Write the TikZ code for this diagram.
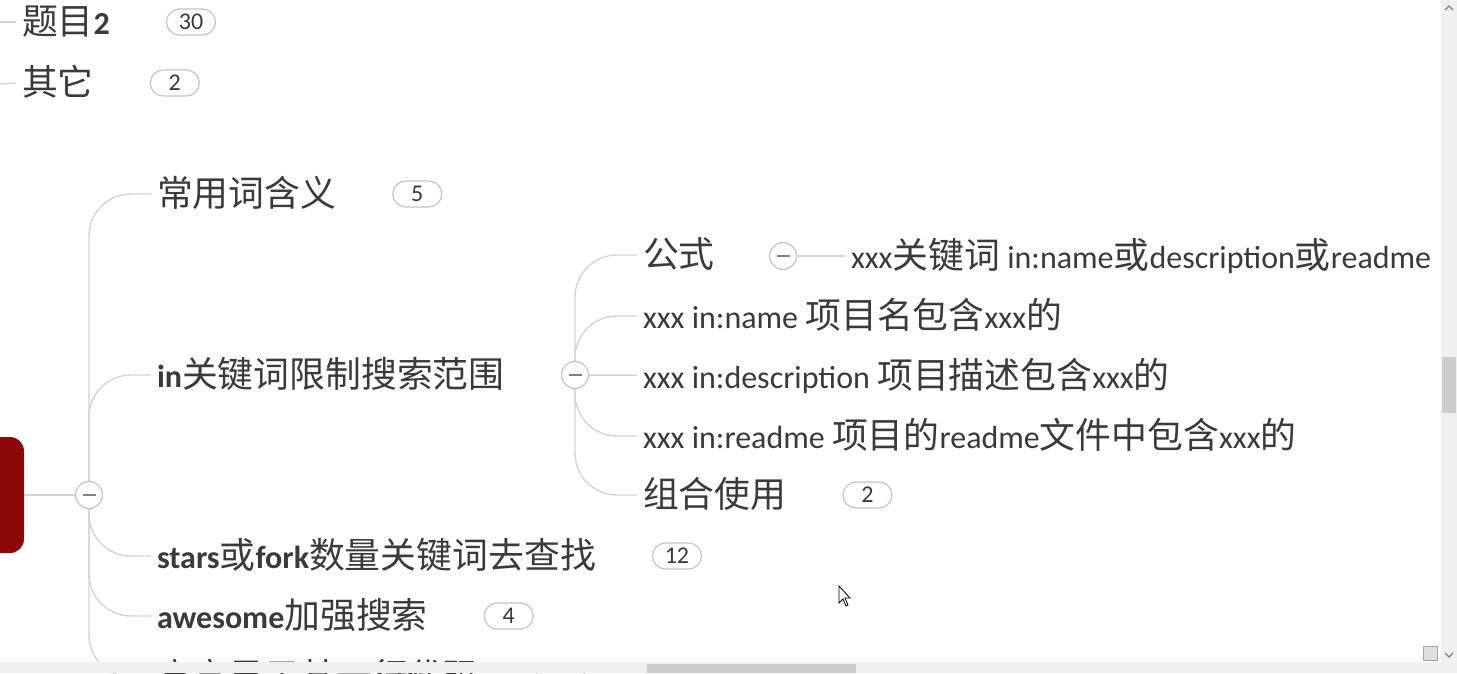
\documentclass[tikz,border=0pt]{standalone}
\usepackage{fontspec}
\setmainfont{Carlito}
\newfontfamily\cjk[Scale=1.12]{Noto Sans CJK SC}
\usetikzlibrary{positioning,calc}
\definecolor{rootred}{RGB}{141,8,8}
\definecolor{linegray}{RGB}{212,212,212}
\definecolor{pillgray}{RGB}{196,196,196}
\definecolor{inkgray}{RGB}{58,58,58}
\definecolor{bargray}{RGB}{240,240,240}
\definecolor{thumbgray}{RGB}{205,205,205}
\newcommand{\zh}[1]{{\cjk\mdseries #1}}

\begin{document}
\begin{tikzpicture}[x=1pt,y=-1pt,node distance=50pt,
   t/.style={anchor=west,inner sep=0pt,outer xsep=6pt,text height=25pt,text depth=0pt,
     text=inkgray,font=\fontsize{32}{36}\selectfont},
   tb/.style={t,font=\fontsize{32}{36}\selectfont\bfseries},
   cnt/.style={draw=pillgray,line width=1.2pt,rounded corners=13pt,minimum width=49pt,
     minimum height=26pt,inner sep=0pt,text=inkgray,font=\fontsize{24}{26}\selectfont},
   fold/.style={circle,draw=pillgray,line width=1.2pt,fill=white,minimum size=27pt,inner sep=0pt,
     path picture={\draw[gray,line width=1.8pt] ($(path picture bounding box.center)+(-6.5,0)$) -- ++(13,0);}},
   br/.style={draw=linegray,line width=1.4pt,rounded corners=42pt}]
  \fill[white] (0,0) rectangle (1457,673);
  \useasboundingbox (0,0) rectangle (1457,673);

  \coordinate (e1) at (0,22);
  \coordinate (e2) at (0,84);
  \node[t] (q2) at (16,22) {\zh{题目}\textbf{2}};
  \node[cnt,right=of q2] (c1) {30};
  \node[t] (qo) at (16,83) {\zh{其它}};
  \node[cnt,right=of qo] (c2) {2};
  \draw[br] (e1) -- (q2.west);
  \draw[br] (e2) -- (qo.west);

  \node[fill=rootred,rounded corners=14pt,minimum width=64pt,minimum height=116pt] (root) at (-8,495) {};
  \node[fold] (f1) at (89,495) {};
  \node[t] (n1) at (151,194) {\zh{常用词含义}};
  \node[cnt,right=of n1] (c3) {5};
  \node[tb] (n2) at (151,375) {in\zh{关键词限制搜索范围}};
  \node[tb] (n3) at (151,556) {stars\zh{或}fork\zh{数量关键词去查找}};
  \node[cnt,right=of n3] (c4) {12};
  \node[tb] (n4) at (151,616) {awesome\zh{加强搜索}};
  \node[cnt,right=of n4] (c5) {4};
  \node[t] (n5) at (151,677) {\zh{高亮显示某一行代码}};
  \node[cnt,right=of n5] (c6) {};

  \node[fold] (f2) at (575,375) {};
  \node[t] (m1) at (637,255) {\zh{公式}};
  \node[t] (m2) at (637,316) {xxx in:name \zh{项目名包含}xxx\zh{的}};
  \node[t] (m3) at (637,376) {xxx in:description \zh{项目描述包含}xxx\zh{的}};
  \node[t] (m4) at (637,436) {xxx in:readme \zh{项目的}readme\zh{文件中包含}xxx\zh{的}};
  \node[t] (m5) at (637,495) {\zh{组合使用}};
  \node[cnt,right=of m5] (c7) {2};
  \node[fold] (f3) at (783,256) {};
  \node[t] (m6) at (845,256) {xxx\zh{关键词} in:name\zh{或}description\zh{或}readme};

  \draw[br] (root) -- (f1);
  \foreach \n in {n1,n2} \draw[br] (f1.north) |- (\n.west);
  \foreach \n in {n3,n4,n5} \draw[br] (f1.south) |- (\n.west);
  \foreach \m in {m1,m2} \draw[br] (f2.north) |- (\m.west);
  \draw[br] (f2) -- (m3);
  \foreach \m in {m4,m5} \draw[br] (f2.south) |- (\m.west);
  \draw[br] (f3) -- (m6);

  \draw[black,fill=white,line width=0.8pt,shift={(839,586)}]
    (0,0) -- (0,17) -- (4,13) -- (7,20) -- (9,19) -- (6,12) -- (11,12) -- cycle;

  \fill[bargray] (1441,0) rectangle (1457,673);
  \fill[bargray] (0,662) rectangle (1441,673);
  \fill[thumbgray] (1442,357) rectangle (1456,413);
  \fill[thumbgray] (647,664) rectangle (856,673);
  \draw[gray,line width=1.3pt] (1445,10) -- (1449,6) -- (1453,10);
  \draw[gray,line width=1.3pt] (1445,653) -- (1449,657) -- (1453,653);
  \draw[gray!70,fill=gray!25] (1423,646) rectangle (1437,660);
\end{tikzpicture}
\end{document}
